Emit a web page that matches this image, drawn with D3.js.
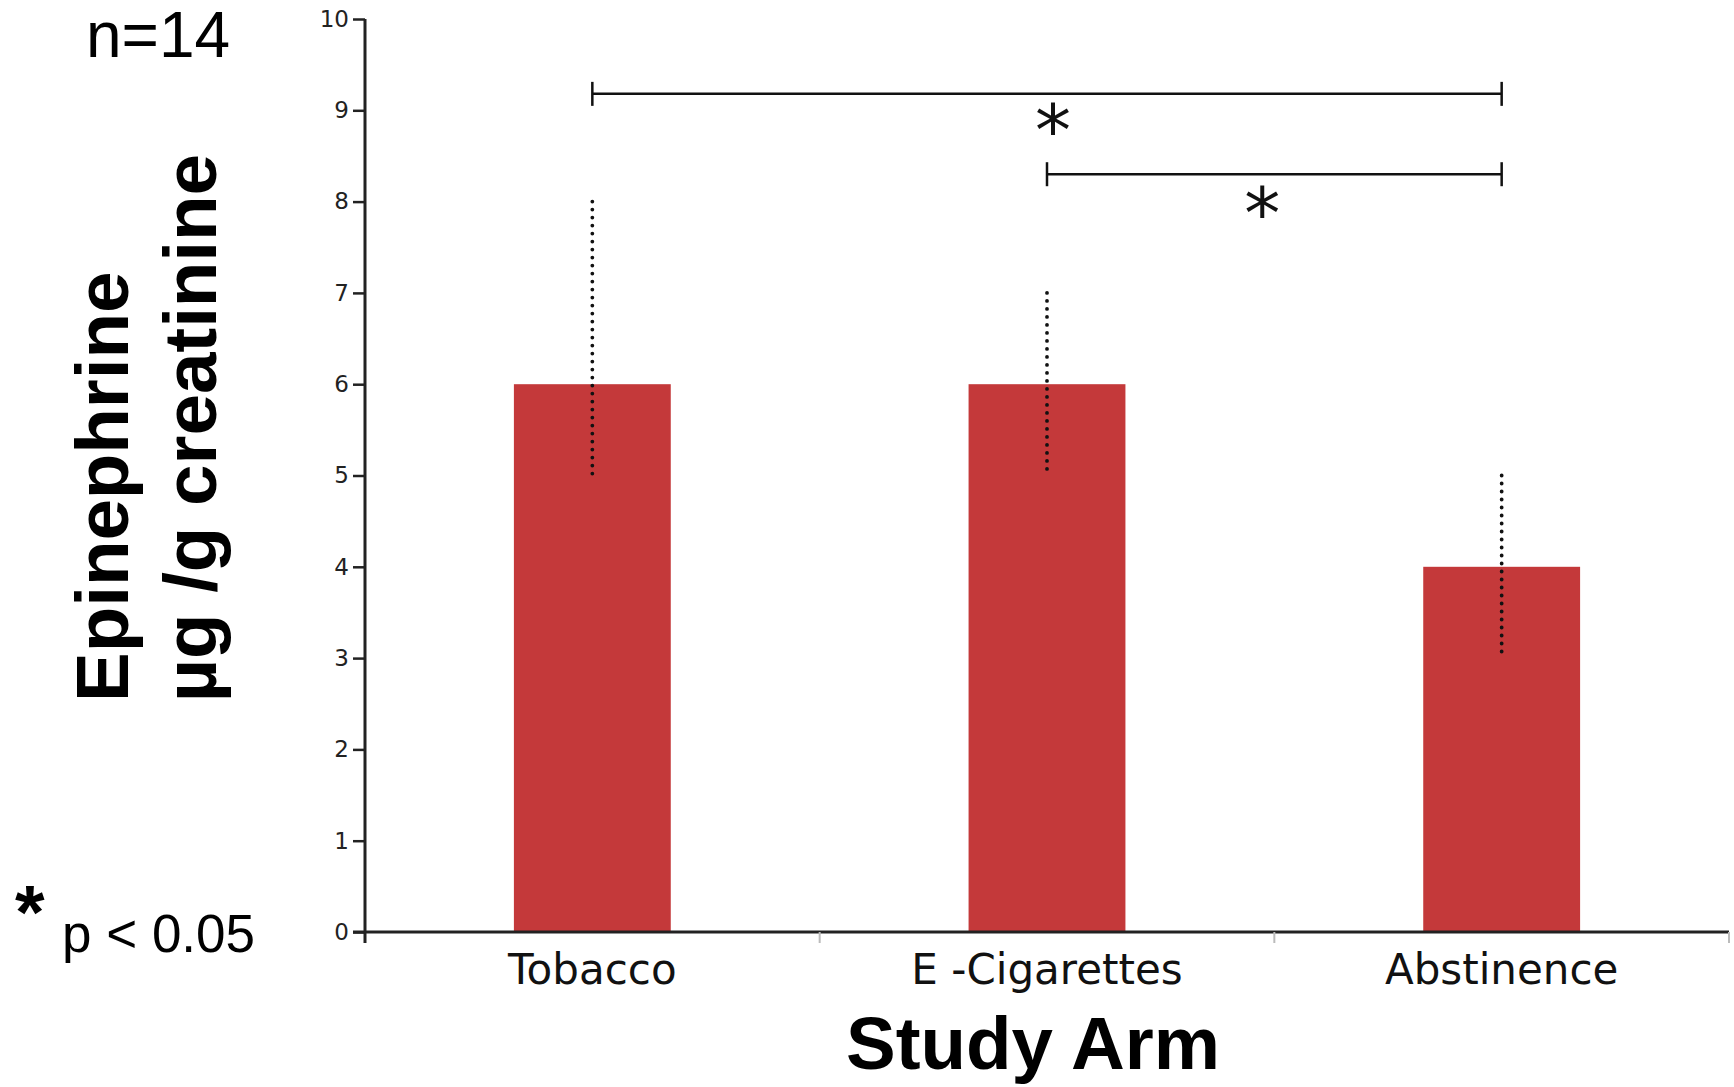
<!DOCTYPE html>
<html>
<head>
<meta charset="utf-8">
<script src="https://cdn.jsdelivr.net/npm/d3@7"></script>
<style>
  html, body { margin: 0; padding: 0; background: #fff; }
  svg { display: block; }
</style>
</head>
<body>
<svg id="chart" width="1734" height="1087"></svg>
<script>
// ---- data ----
const categories = ["Tobacco", "E -Cigarettes", "Abstinence"];
const means = [6, 6, 4];
const errLow = [5, 5, 3];
const errHigh = [8, 7, 5];
const yTicks = [0, 1, 2, 3, 4, 5, 6, 7, 8, 9, 10];
const brackets = [
  { from: "Tobacco", to: "Abstinence", level: 9.18, label: "*" },
  { from: "E -Cigarettes", to: "Abstinence", level: 8.3, label: "*" }
];

// ---- layout ----
const svg = d3.select("#chart");
const plot = { left: 365, right: 1729, top: 19, bottom: 932 };
const starShift = [6, -12];   // horizontal nudge of the star labels (px)
const starDrop = [61, 64];    // baseline offset of the star labels below bracket (px)

const x = d3.scaleBand().domain(categories).range([plot.left, plot.right]).paddingInner(0).paddingOuter(0);
const y = d3.scaleLinear().domain([0, 10]).range([plot.bottom, plot.top]);
const barW = x.bandwidth() * 0.345;
const cx = c => x(c) + x.bandwidth() / 2;

// bars
svg.append("g").selectAll("rect").data(categories).join("rect")
  .attr("x", (d) => cx(d) - barW / 2)
  .attr("y", (d, i) => y(means[i]))
  .attr("width", barW)
  .attr("height", (d, i) => y(0) - y(means[i]))
  .attr("fill", "#c4393a");

// error bars (dotted)
svg.append("g").selectAll("line").data(categories).join("line")
  .attr("x1", d => cx(d)).attr("x2", d => cx(d))
  .attr("y1", (d, i) => y(errHigh[i]))
  .attr("y2", (d, i) => y(errLow[i]))
  .attr("stroke", "#111")
  .attr("stroke-width", 3.8)
  .attr("stroke-linecap", "round")
  .attr("stroke-dasharray", "0,8");

// y axis
const yAxis = svg.append("g")
  .attr("transform", `translate(${plot.left},0)`)
  .call(d3.axisLeft(y).tickValues(yTicks).tickSize(12).tickPadding(4).tickSizeOuter(0));
yAxis.select(".domain").attr("stroke", "#222").attr("stroke-width", 3)
  .attr("d", `M0,${plot.top}V${plot.bottom + 11}`);
yAxis.selectAll(".tick line").attr("stroke", "#222").attr("stroke-width", 2.5);
yAxis.selectAll(".tick text")
  .attr("font-family", "DejaVu Sans")
  .attr("font-size", 23)
  .attr("fill", "#222");

// x axis
const xAxis = svg.append("g")
  .attr("transform", `translate(0,${plot.bottom})`)
  .call(d3.axisBottom(x).tickSize(0).tickPadding(22).tickSizeOuter(0));
xAxis.select(".domain").attr("stroke", "#222").attr("stroke-width", 3)
  .attr("d", `M${plot.left - 12},0H${plot.right}`);
xAxis.selectAll(".tick text")
  .attr("font-family", "DejaVu Sans")
  .attr("font-size", 42)
  .attr("fill", "#111");
// band boundary ticks
const bounds = categories.map(c => x(c)).concat([x(categories[categories.length - 1]) + x.bandwidth()]);
xAxis.append("g").selectAll("line").data(bounds.slice(1)).join("line")
  .attr("x1", d => d).attr("x2", d => d)
  .attr("y1", 0).attr("y2", 11)
  .attr("stroke", "#bbb").attr("stroke-width", 2);

// significance brackets
const bg = svg.append("g");
brackets.forEach((b, i) => {
  const x1 = cx(b.from), x2 = cx(b.to), yy = y(b.level);
  bg.append("line").attr("x1", x1).attr("x2", x2).attr("y1", yy).attr("y2", yy)
    .attr("stroke", "#111").attr("stroke-width", 2.5);
  [x1, x2].forEach(xx => bg.append("line").attr("x1", xx).attr("x2", xx)
    .attr("y1", yy - 12).attr("y2", yy + 12).attr("stroke", "#111").attr("stroke-width", 2.5));
  bg.append("text").attr("x", (x1 + x2) / 2 + starShift[i]).attr("y", yy + starDrop[i])
    .attr("text-anchor", "middle")
    .attr("font-family", "DejaVu Sans").attr("font-size", 72)
    .attr("fill", "#111").text(b.label);
});

// axis titles
svg.append("text").attr("x", 1033).attr("y", 1069)
  .attr("text-anchor", "middle")
  .attr("font-family", "Liberation Sans, Arial, sans-serif").attr("font-weight", "bold")
  .attr("font-size", 74.5).attr("fill", "#000").text("Study Arm");

svg.append("text").attr("transform", "translate(128,702) rotate(-90)")
  .attr("font-family", "Liberation Sans, Arial, sans-serif").attr("font-weight", "bold")
  .attr("font-size", 74.5).attr("fill", "#000").text("Epinephrine");
svg.append("text").attr("transform", "translate(216,702) rotate(-90)")
  .attr("font-family", "Liberation Sans, Arial, sans-serif").attr("font-weight", "bold")
  .attr("font-size", 74.5).attr("fill", "#000").text("µg /g creatinine");

// annotations
svg.append("text").attr("x", 86).attr("y", 57)
  .attr("font-family", "Liberation Sans, Arial, sans-serif")
  .attr("font-size", 64).attr("fill", "#000").text("n=14");
svg.append("text").attr("x", 15).attr("y", 938)
  .attr("font-family", "Liberation Sans, Arial, sans-serif").attr("font-weight", "bold")
  .attr("font-size", 76).attr("fill", "#000").text("*");
svg.append("text").attr("x", 62).attr("y", 952)
  .attr("font-family", "Liberation Sans, Arial, sans-serif")
  .attr("font-size", 53).attr("fill", "#000").text("p < 0.05");
</script>
</body>
</html>
